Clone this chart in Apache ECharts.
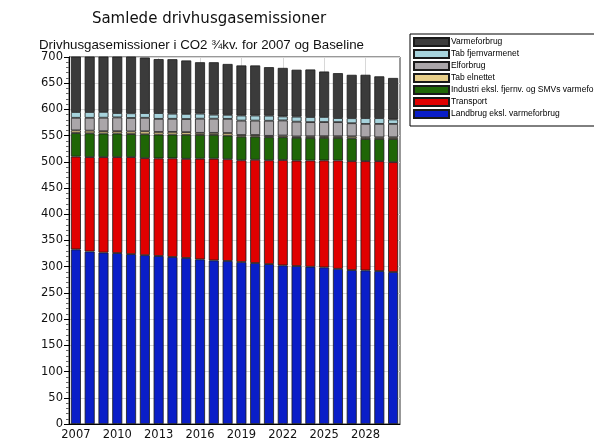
<!DOCTYPE html>
<html>
<head>
<meta charset="utf-8">
<script src="https://cdn.jsdelivr.net/npm/echarts@6/dist/echarts.min.js"></script>
<style>
  html, body { margin: 0; padding: 0; background: #fff; }
  #chart { width: 594px; height: 441px; }
</style>
</head>
<body>
<div id="chart"></div>
<script>
// år 2007-2030
var years = ['2007', '2008', '2009', '2010', '2011', '2012', '2013', '2014', '2015', '2016', '2017', '2018',
  '2019', '2020', '2021', '2022', '2023', '2024', '2025', '2026', '2027', '2028', '2029', '2030']

// værdier i 1000 ton CO2-ækv. (nederst -> øverst i stakken)
var landbrug = [333, 329, 327, 326, 324, 322, 320.5, 318.6, 316.7, 314, 312, 311,
  309, 307, 305, 302.5, 301.3, 300, 298.7, 296, 293.6, 292.9, 291.7, 289.8]
var transport = [177, 180, 182, 183, 185, 185, 186, 188, 189, 192, 194, 194,
  194, 197, 198, 201, 201, 202.6, 204, 206.6, 207.7, 208.4, 209.6, 209.6]
var industri = [45, 45.5, 45, 45, 44, 45.6, 45.5, 45.5, 46, 45.5, 45.5, 45,
  45, 44, 44, 43.5, 43.6, 43, 43, 43, 43.6, 42.3, 42.3, 44.2]
var tabElnettet = [5, 5, 4.5, 4.5, 5, 5.7, 5, 5, 5, 3.8, 3.8, 5,
  3.2, 3.2, 2.6, 3.2, 2.5, 3.2, 3.2, 3.2, 3.8, 3.2, 3.2, 3.2]
var elforbrug = [24, 24.5, 25.7, 26.3, 25.7, 25.7, 25, 25, 25, 27, 27, 27,
  27.5, 27.5, 28.8, 28.8, 28.2, 27, 27, 27, 25, 25.6, 25.6, 25.6]
var tabFjernvarme = [11, 11, 11, 8.3, 9, 9, 11, 9.7, 9.7, 9.7, 7.7, 7.7,
  9.7, 9.7, 9.7, 7.7, 9.6, 9.7, 9.7, 7.7, 9.6, 11, 11, 8.4]
var varmeforbrug = [111, 110, 108, 108, 108, 106, 103, 104, 102, 98, 100, 97,
  95.5, 95.5, 92.5, 92.5, 89.5, 90.7, 86.7, 85.7, 82.7, 82.7, 79.7, 79.2]

var seriesNames = ['Landbrug eksl. varmeforbrug', 'Transport', 'Industri eksl. fjernv. og SMVs varmeforbrug',
  'Tab elnettet', 'Elforbrug', 'Tab fjernvarmenet', 'Varmeforbrug']
var seriesData = [landbrug, transport, industri, tabElnettet, elforbrug, tabFjernvarme, varmeforbrug]
var seriesColors = ['#0a1ec8', '#e00000', '#1f6606', '#e8cf8a', '#aaa6a9', '#a7d3dc', '#3b3b3b']

var yTicks = [0, 50, 100, 150, 200, 250, 300, 350, 400, 450, 500, 550, 600, 650, 700]

var series = seriesData.map(function(d, i) {
  return {
    name: seriesNames[i],
    type: 'bar',
    stack: 'total',
    barWidth: 10,
    data: d,
    itemStyle: {
      color: seriesColors[i],
      borderColor: '#1a1a1a',
      borderWidth: 0.8
    }
  }
})

var chart = echarts.init(document.getElementById('chart'))
chart.setOption({
  animation: false,
  textStyle: { fontFamily: 'DejaVu Sans' },
  graphic: [
    {
      type: 'text',
      style: {
        text: 'Samlede drivhusgasemissioner',
        x: 209, y: 19,
        textAlign: 'center', textVerticalAlign: 'middle',
        font: '15px "DejaVu Sans"', fill: '#111'
      }
    },
    {
      type: 'text',
      style: {
        text: 'Drivhusgasemissioner i CO2 ¾kv. for 2007 og Baseline',
        x: 39, y: 45,
        textAlign: 'left', textVerticalAlign: 'middle',
        font: '13.3px "Liberation Sans"', fill: '#111'
      }
    }
  ],
  legend: {
    orient: 'vertical',
    left: 410,
    top: 34,
    padding: [3, 6, 7, 3],
    itemWidth: 35,
    itemHeight: 8,
    itemGap: 2,
    icon: 'rect',
    borderColor: '#000',
    borderWidth: 1,
    textStyle: { fontFamily: 'Liberation Sans', fontSize: 8.5, lineHeight: 8, color: '#000', padding: [0, 0, 0, -3] },
    data: seriesNames.slice().reverse()
  },
  grid: {
    left: 69,
    top: 57,
    width: 331,
    height: 367,
    show: true,
    borderColor: '#333',
    borderWidth: 1
  },
  xAxis: {
    type: 'category',
    data: years,
    axisLine: { lineStyle: { color: '#000' } },
    axisTick: { alignWithLabel: true, interval: 2, length: 4, lineStyle: { color: '#000' } },
    axisLabel: { interval: 2, fontSize: 11.5, color: '#111', margin: 5 },
    splitLine: { show: true, interval: 2, alignWithLabel: true, lineStyle: { color: '#d8d8d8' } }
  },
  yAxis: {
    type: 'value',
    min: yTicks[0],
    max: yTicks[yTicks.length - 1],
    interval: 50,
    axisLine: { show: true, lineStyle: { color: '#000' } },
    axisTick: { show: true, length: 5, lineStyle: { color: '#000' } },
    minorTick: { show: true, splitNumber: 5, length: 3, lineStyle: { color: '#666' } },
    axisLabel: { fontSize: 11.5, color: '#111', margin: 6 },
    splitLine: { show: true, lineStyle: { color: '#d8d8d8' } }
  },
  series: series
})
</script>
</body>
</html>
